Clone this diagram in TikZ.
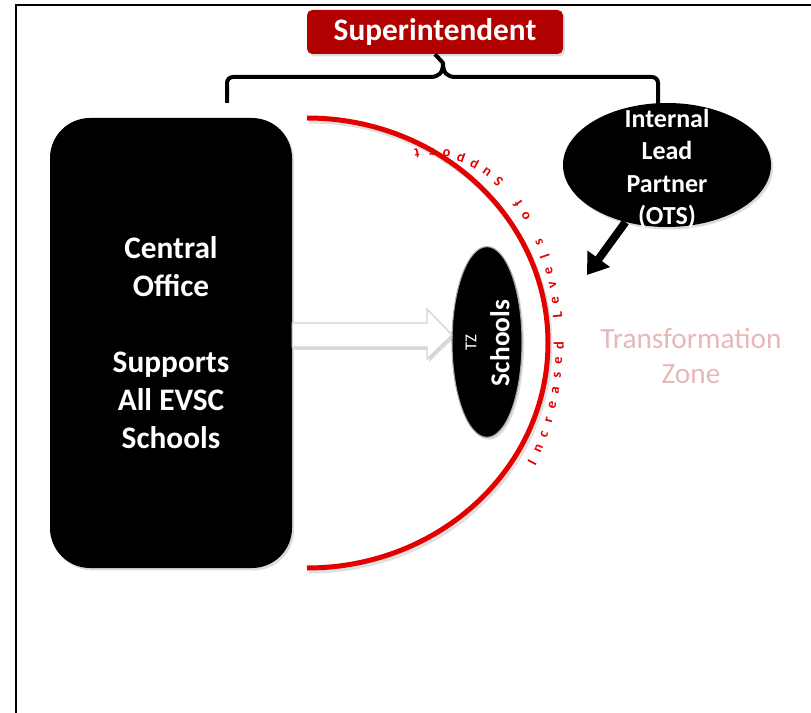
\documentclass[tikz,border=0pt]{standalone}
\usepackage{fontspec}
\setmainfont{Carlito}
\usetikzlibrary{shapes.geometric,shadows,arrows.meta}
\definecolor{supred}{RGB}{176,0,0}
\definecolor{arcred}{RGB}{226,0,0}
\definecolor{tzpink}{RGB}{230,184,183}
\begin{document}
\begin{tikzpicture}[x=0.75pt,y=0.75pt,
  softshadow/.style={drop shadow={opacity=0.28,shadow xshift=1.5pt,shadow yshift=-1.8pt}},
  supbox/.style={fill=supred, rounded corners=4pt, text=white, inner sep=0pt,
    minimum width=192pt, minimum height=33pt, softshadow,
    font=\bfseries\fontsize{23.5}{28}\selectfont},
  blackbox/.style={fill=black, text=white, align=center, inner sep=0pt, softshadow},
  whitetext/.style={text=white, align=center, inner sep=0pt},
  bracestyle/.style={line width=3pt, line join=round},
  arcstyle/.style={line width=3.75pt, draw=arcred},
  arcletter/.style={text=arcred, inner sep=0pt, font=\bfseries\fontsize{10.8}{11}\selectfont}
]
\useasboundingbox (0,0) rectangle (811,-713);
% frame
\draw[line width=1.5pt] (16,-720) -- (16,-5.5) -- (820,-5.5);

% superintendent
\node[supbox] (sup) at (435,-32) {Superintendent};

% central office
\node[blackbox, rounded corners=30pt, minimum width=181.5pt, minimum height=337.5pt,
  font=\bfseries\fontsize{23.5}{28.5}\selectfont] (central) at (171,-343)
  {Central\\Office\\[28.5pt]Supports\\All EVSC\\Schools};

% internal lead partner
\node[blackbox, ellipse, minimum width=156pt, minimum height=93pt] (ilp) at (667,-165) {};
\node[whitetext, font=\bfseries\fontsize{19.5}{24.4}\selectfont] (ilptext) at (667,-169)
  {Internal\\Lead\\Partner\\(OTS)};

% brace
\coordinate (braceL) at (227,-103);
\coordinate (braceR) at (658,-104);
\draw[bracestyle] (braceL) -- (227,-83) arc[start angle=180,end angle=90,radius=6] -- (430,-77)
  .. controls (439,-77) and (443,-73) .. (443,-63) -- (sup.south);
\draw[bracestyle] (braceR) -- (658,-83) arc[start angle=0,end angle=90,radius=6] -- (456,-77)
  .. controls (447,-77) and (443,-73) .. (443,-63);

% red arc with faint shadow
\draw[line width=3.75pt, draw=black, opacity=0.12] (309,-121) arc[start angle=90,end angle=-90,x radius=241,y radius=225];
\draw[arcstyle] (307,-118) arc[start angle=90,end angle=-90,x radius=241,y radius=225];

% text along arc: letters placed at equal arc length on an ellipse
\xdef\tcur{-37.6}
\foreach \ch [count=\i] in {I,n,c,r,e,a,s,e,d,{},L,e,v,e,l,s,{},o,f,{},S,u,p,p,o,r,t} {
  \pgfmathsetmacro\px{430+129*cos(\tcur)}
  \pgfmathsetmacro\py{-345+193*sin(\tcur)}
  \pgfmathsetmacro\rot{atan2(1.93*cos(\tcur),-1.29*sin(\tcur))}
  \node[arcletter, rotate=\rot] (al\i) at (\px,\py) {\ch};
  \pgfmathsetmacro\spd{sqrt((1.29*sin(\tcur))^2+(1.93*cos(\tcur))^2)}
  \pgfmathsetmacro\dt{15.1/(\spd*1.745329)}
  \pgfmathsetmacro\tnew{\tcur+\dt}
  \xdef\tcur{\tnew}
}

% schools ellipse
\node[blackbox, ellipse, draw=gray!70, line width=0.8pt, minimum width=52.5pt, minimum height=143pt] (schools) at (487,-342) {};
\node[whitetext, rotate=90, font=\fontsize{12.5}{14}\selectfont] (tz) at (471,-343) {TZ};
\node[whitetext, rotate=90, font=\bfseries\fontsize{20.5}{24}\selectfont] (schtext) at (500,-343) {Schools};

% white block arrow
\draw[fill=white, draw=gray!35, line width=1pt, drop shadow={opacity=0.3,shadow xshift=1.5pt,shadow yshift=-2.2pt}]
  (central.east |- 0,-323) -- (427,-323) -- (427,-309) -- (452,-335) -- (427,-359) -- (427,-347)
  -- (central.east |- 0,-347) -- cycle;

% black arrow from ILP
\coordinate (tip) at (587,-275);
\draw[line width=6pt, -{Triangle[width=20pt,length=15pt]}] (ilp) -- (tip);

% transformation zone
\node[text=tzpink, align=center, inner sep=0pt, font=\fontsize{22}{26}\selectfont] (tzone) at (691,-356)
  {Transformation\\Zone};
\end{tikzpicture}
\end{document}
